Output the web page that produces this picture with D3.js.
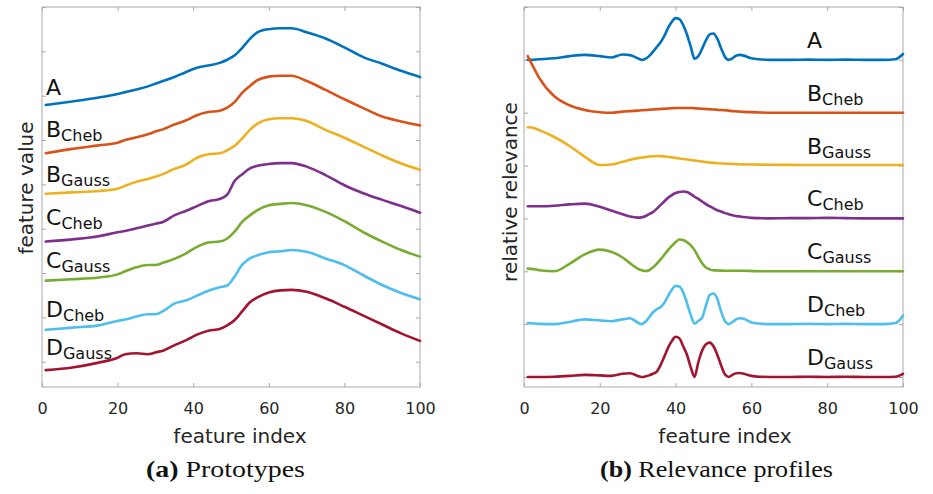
<!DOCTYPE html>
<html><head><meta charset="utf-8">
<script src="https://cdn.jsdelivr.net/npm/d3@7"></script>
<style>
body{margin:0;background:#fff;}
svg{display:block;font-family:"DejaVu Sans",sans-serif;}
</style>
</head><body>
<svg id="c" width="933" height="494"></svg>
<script>
// ---------- DATA ----------
const xTicks = [0, 20, 40, 60, 80, 100];
const seriesMain = ["A", "B", "B", "C", "C", "D", "D"];
const seriesSub  = ["", "Cheb", "Gauss", "Cheb", "Gauss", "Cheb", "Gauss"];
const colors = ["#0072BD", "#D95319", "#EDB120", "#7E2F8E", "#77AC30", "#4DBEEE", "#A2142F"];

// (a) prototypes: feature index samples and (stacked) feature values
const featL = [1,8,15,20,22,25,28,30,32,35,38,41,44,47,49,51,53,55,57,60,63,66,70,75,80,85,90,95,100];
const protoA      = [6.79,6.87,6.96,7.04,7.08,7.14,7.21,7.27,7.33,7.42,7.53,7.63,7.68,7.74,7.81,7.91,8.08,8.28,8.43,8.50,8.52,8.52,8.43,8.29,8.09,7.87,7.72,7.56,7.42];
const protoBCheb  = [5.70,5.80,5.88,5.94,6.00,6.06,6.13,6.19,6.24,6.35,6.44,6.56,6.63,6.66,6.73,6.86,7.07,7.22,7.35,7.43,7.45,7.45,7.33,7.13,6.92,6.72,6.53,6.42,6.33];
const protoBGauss = [4.79,4.82,4.85,4.90,4.97,5.06,5.12,5.17,5.23,5.35,5.44,5.60,5.68,5.70,5.77,5.87,6.04,6.23,6.37,6.47,6.49,6.49,6.43,6.23,6.05,5.85,5.65,5.47,5.33];
const protoCCheb  = [3.71,3.76,3.83,3.92,3.95,4.01,4.07,4.11,4.15,4.30,4.40,4.51,4.62,4.67,4.77,5.08,5.23,5.36,5.42,5.46,5.48,5.48,5.40,5.21,4.98,4.80,4.65,4.51,4.36];
const protoCGauss = [2.83,2.86,2.90,2.97,3.04,3.13,3.18,3.18,3.23,3.32,3.44,3.59,3.69,3.71,3.78,3.94,4.16,4.30,4.42,4.53,4.56,4.58,4.53,4.38,4.17,3.92,3.71,3.52,3.37];
const protoDCheb  = [1.72,1.77,1.82,1.92,1.95,2.02,2.07,2.07,2.14,2.31,2.38,2.49,2.60,2.68,2.72,2.93,3.19,3.33,3.40,3.47,3.49,3.52,3.48,3.33,3.18,2.95,2.73,2.55,2.41];
const protoDGauss = [0.81,0.87,0.98,1.09,1.17,1.19,1.17,1.21,1.25,1.37,1.48,1.61,1.70,1.74,1.82,1.94,2.14,2.34,2.45,2.56,2.61,2.62,2.58,2.43,2.24,2.04,1.84,1.64,1.47];

// (b) relevance profiles: feature index samples, relevance values, stacking offsets
const featR = [1,2,4,8,12,16,20,23,26,28,30,31,32,33,34,35,36,37,38,39,40,41,42,43,44,45,46,47,48,49,50,51,52,53,54,55,56,57,58,60,62,65,70,75,80,85,90,95,98,100];
const relA      = [0,0,0.01,0.03,0.07,0.095,0.07,0.045,0.10,0.09,0.03,0,0.02,0.07,0.15,0.24,0.33,0.45,0.60,0.72,0.79,0.77,0.66,0.48,0.25,0.02,0.07,0.21,0.37,0.48,0.50,0.40,0.22,0.06,0,0.03,0.08,0.095,0.08,0.03,0.01,0,0,0.005,0,0.005,0,0,0.01,0.11];
const relBCheb  = [1.07,0.93,0.66,0.31,0.14,0.05,0.01,0,0.02,0.03,0.04,0.045,0.05,0.055,0.06,0.065,0.07,0.075,0.08,0.085,0.09,0.09,0.09,0.09,0.09,0.085,0.08,0.075,0.07,0.065,0.06,0.055,0.05,0.045,0.04,0.03,0.025,0.02,0.015,0.01,0.005,0,0,0,0,0,0,0,0,0];
const relBGauss = [0.725,0.72,0.67,0.54,0.37,0.17,0.01,0.02,0.07,0.11,0.14,0.15,0.16,0.17,0.175,0.18,0.178,0.172,0.165,0.155,0.145,0.135,0.125,0.115,0.105,0.095,0.085,0.075,0.065,0.055,0.05,0.045,0.04,0.036,0.033,0.03,0.027,0.024,0.022,0.02,0.018,0.015,0.012,0.01,0.01,0.01,0.01,0.01,0.01,0.01];
const relCCheb  = [0.23,0.23,0.23,0.24,0.265,0.28,0.22,0.15,0.08,0.035,0.015,0.02,0.04,0.08,0.12,0.18,0.25,0.32,0.39,0.44,0.48,0.50,0.51,0.50,0.46,0.41,0.37,0.32,0.27,0.23,0.19,0.155,0.13,0.10,0.08,0.06,0.045,0.035,0.025,0.01,0.005,0,0.005,0.005,0.01,0.005,0,0,0,0];
const relCGauss = [0.05,0.045,0.02,0,0.14,0.32,0.41,0.37,0.26,0.15,0.05,0.02,0.005,0.02,0.07,0.14,0.22,0.31,0.40,0.48,0.55,0.60,0.59,0.55,0.49,0.40,0.27,0.15,0.07,0.035,0.02,0.015,0.012,0.01,0.01,0.01,0.01,0.01,0.01,0.005,0,0,0,0,0,0,0,0,0,0];
const relDCheb  = [0.02,0.015,0.005,0,0.04,0.09,0.07,0.055,0.09,0.11,0.03,0,0.04,0.13,0.22,0.28,0.32,0.40,0.53,0.65,0.72,0.71,0.60,0.40,0.17,0.01,0.06,0.12,0.35,0.55,0.58,0.48,0.24,0.06,0,0.04,0.09,0.11,0.10,0.03,0.01,0,0,0.005,0,0.005,0,0,0.02,0.16];
const relDGauss = [0,0,0,0.005,0.02,0.04,0.03,0.02,0.06,0.07,0.02,0,0.01,0.03,0.06,0.10,0.22,0.38,0.55,0.68,0.76,0.73,0.58,0.42,0.18,0,0.28,0.50,0.62,0.65,0.58,0.42,0.22,0.05,0,0.04,0.07,0.075,0.06,0.02,0.005,0,0,0.005,0,0.005,0,0,0.005,0.06];
const relOffsets = [7, 6, 5, 4, 3, 2, 1];

const protos = [protoA, protoBCheb, protoBGauss, protoCCheb, protoCGauss, protoDCheb, protoDGauss];
const rels = [relA, relBCheb, relBGauss, relCCheb, relCGauss, relDCheb, relDGauss];

// ---------- LAYOUT ----------
const svg = d3.select("#c");
const TXT = "#262626", AX = "#a9a9a9";
const xL = d3.scaleLinear().domain([0, 100]).range([42, 420]);
const yL = d3.scaleLinear().domain([0.43, 9]).range([387, 7]);
const xR = d3.scaleLinear().domain([0, 100]).range([524, 903]);
const yR = d3.scaleLinear().domain([0.81, 8]).range([387, 7]);
const labelYLeft = [95, 137, 182, 225, 268, 317, 355];

function panel(x, y, yTickVals) {
  const g = svg.append("g");
  const [x0, x1] = x.range(), [y0, y1] = y.range();
  g.append("rect").attr("x", x0).attr("y", y1).attr("width", x1 - x0).attr("height", y0 - y1)
    .attr("fill", "none").attr("stroke", AX).attr("stroke-width", 1);
  const style = s => { s.select(".domain").remove(); s.selectAll(".tick line").attr("stroke", AX); };
  g.append("g").attr("transform", `translate(0,${y0})`)
    .call(d3.axisBottom(x).tickValues(xTicks).tickSizeInner(-4).tickSizeOuter(0).tickPadding(16))
    .call(style)
    .call(s => s.selectAll("text").attr("fill", TXT).attr("font-size", 16).attr("font-family", "DejaVu Sans"));
  g.append("g").attr("transform", `translate(0,${y1})`)
    .call(d3.axisTop(x).tickValues(xTicks).tickSizeInner(-4).tickSizeOuter(0).tickFormat(""))
    .call(style);
  g.append("g").attr("transform", `translate(${x0},0)`)
    .call(d3.axisLeft(y).tickValues(yTickVals).tickSizeInner(-4).tickSizeOuter(0).tickFormat(""))
    .call(style);
  g.append("g").attr("transform", `translate(${x1},0)`)
    .call(d3.axisRight(y).tickValues(yTickVals).tickSizeInner(-4).tickSizeOuter(0).tickFormat(""))
    .call(style);
  return g;
}

panel(xL, yL, [1,2,3,4,5,6,7,8,9]);
panel(xR, yR, [1,2,3,4,5,6,7,8]);

// curves (a)
const lineL = d3.line().x((d, i) => xL(featL[i])).y(d => yL(d)).curve(d3.curveMonotoneX);
svg.append("g").selectAll("path").data(protos).join("path")
  .attr("d", lineL).attr("fill", "none").attr("stroke", (d, i) => colors[i])
  .attr("stroke-width", 2.6).attr("stroke-linejoin", "round").attr("stroke-linecap", "round");

// curves (b)
const lineR = off => d3.line().x((d, i) => xR(featR[i])).y(d => yR(d + off)).curve(d3.curveMonotoneX);
svg.append("g").selectAll("path").data(rels).join("path")
  .attr("d", (d, i) => lineR(relOffsets[i])(d)).attr("fill", "none").attr("stroke", (d, i) => colors[i])
  .attr("stroke-width", 2.6).attr("stroke-linejoin", "round").attr("stroke-linecap", "round");

// series labels
function seriesLabel(xp, yp, i) {
  const t = svg.append("text").attr("x", xp).attr("y", yp).attr("fill", "#111").attr("font-size", 22);
  t.append("tspan").text(seriesMain[i]);
  if (seriesSub[i]) t.append("tspan").attr("font-size", 16).attr("dy", 4).text(seriesSub[i]);
}
seriesMain.forEach((s, i) => seriesLabel(46, labelYLeft[i], i));
seriesMain.forEach((s, i) => seriesLabel(807, yR(relOffsets[i]) - 12, i));

// axis titles
svg.append("text").attr("x", 240).attr("y", 443).attr("text-anchor", "middle").attr("font-size", 20).attr("fill", TXT).text("feature index");
svg.append("text").attr("x", 725).attr("y", 443).attr("text-anchor", "middle").attr("font-size", 20).attr("fill", TXT).text("feature index");
svg.append("text").attr("transform", "translate(33,188) rotate(-90)").attr("text-anchor", "middle").attr("font-size", 20).attr("fill", TXT).text("feature value");
svg.append("text").attr("transform", "translate(517,192) rotate(-90)").attr("text-anchor", "middle").attr("font-size", 20).attr("fill", TXT).text("relative relevance");

// captions
function caption(cx, width, tag, title) {
  const t = svg.append("text").attr("x", cx).attr("y", 477).attr("text-anchor", "middle")
    .attr("font-family", "Liberation Serif, serif").attr("font-size", 24).attr("fill", "#111")
    .attr("textLength", width).attr("lengthAdjust", "spacingAndGlyphs");
  t.append("tspan").attr("font-weight", "bold").text(tag);
  t.append("tspan").text(" " + title);
}
caption(225.5, 159, "(a)", "Prototypes");
caption(716.5, 233, "(b)", "Relevance profiles");
</script>
</body></html>
